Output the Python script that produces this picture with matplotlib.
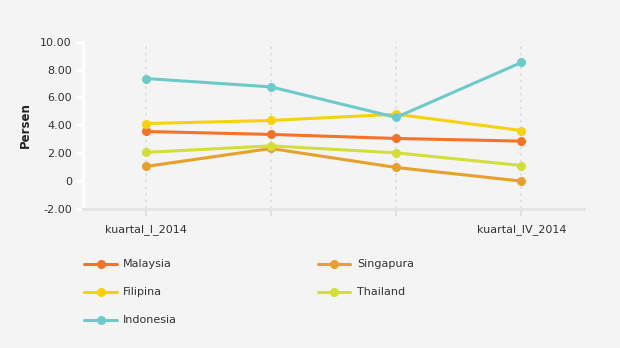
import matplotlib
matplotlib.use("Agg")
import matplotlib.pyplot as plt
from matplotlib.ticker import FuncFormatter

# data
quarters = ["kuartal_I_2014", "kuartal_II_2014", "kuartal_III_2014", "kuartal_IV_2014"]
malaysia = [3.56, 3.35, 3.06, 2.87]
singapura = [1.05, 2.34, 0.98, 0.0]
filipina = [4.13, 4.35, 4.80, 3.63]
thailand = [2.06, 2.53, 2.03, 1.12]
indonesia = [7.36, 6.76, 4.57, 8.51]

series = [
    ("Malaysia", malaysia, "#f47328"),
    ("Singapura", singapura, "#e8a02c"),
    ("Filipina", filipina, "#f6d110"),
    ("Thailand", thailand, "#d2df3a"),
    ("Indonesia", indonesia, "#6ccbca"),
]

bg = "#f4f4f4"
fig = plt.figure(figsize=(6.2, 3.48), dpi=100, facecolor=bg)
ax = fig.add_axes([83 / 620, 1 - 209 / 348, (584 - 83) / 620, (209 - 41.7) / 348])
ax.set_facecolor(bg)

x = list(range(len(quarters)))
handles = {}
for name, vals, col in series:
    h, = ax.plot(x, vals, color=col, lw=2.2, marker="o", ms=5.5, label=name,
                 solid_capstyle="round", zorder=3)
    handles[name] = h

ax.set_xlim(-0.5, 3.5)
ax.set_ylim(-2, 10)
ax.set_yticks([-2, 0, 2, 4, 6, 8, 10])
ax.yaxis.set_major_formatter(FuncFormatter(lambda v, p: "0" if v == 0 else f"{v:.2f}"))

# only first and last category labels are visible in the reference
ax.set_xticks(x)
ax.set_xticklabels([quarters[0], "", "", quarters[-1]])
ax.grid(axis="x", color="#dddddd", linestyle=(0, (1.5, 2.5)), lw=1.2, zorder=1)

for s in ["top", "right"]:
    ax.spines[s].set_visible(False)
ax.spines["left"].set_color("white")
ax.spines["left"].set_linewidth(2)
ax.spines["bottom"].set_color("#e4e4e4")
ax.spines["bottom"].set_linewidth(2)

ax.tick_params(axis="y", colors="white", length=5, width=2, labelcolor="#333333",
               labelsize=8, pad=3)
ax.tick_params(axis="x", colors="#dddddd", length=5, width=1.2, labelcolor="#333333",
               labelsize=8, pad=6)

ax.set_ylabel("Persen", fontsize=8.5, fontweight="bold", color="#222222", labelpad=6)

order = ["Malaysia", "Filipina", "Indonesia", "Singapura", "Thailand"]
leg = fig.legend([handles[n] for n in order], order, ncol=2,
                 loc="upper left", bbox_to_anchor=(80 / 620, 1 - 255 / 348),
                 frameon=False, fontsize=8, handlelength=2.9, handletextpad=0.6,
                 labelspacing=1.62, columnspacing=12.65, borderaxespad=0)
for t in leg.get_texts():
    t.set_color("#333333")

fig.savefig("out.png", dpi=100, facecolor=bg)
